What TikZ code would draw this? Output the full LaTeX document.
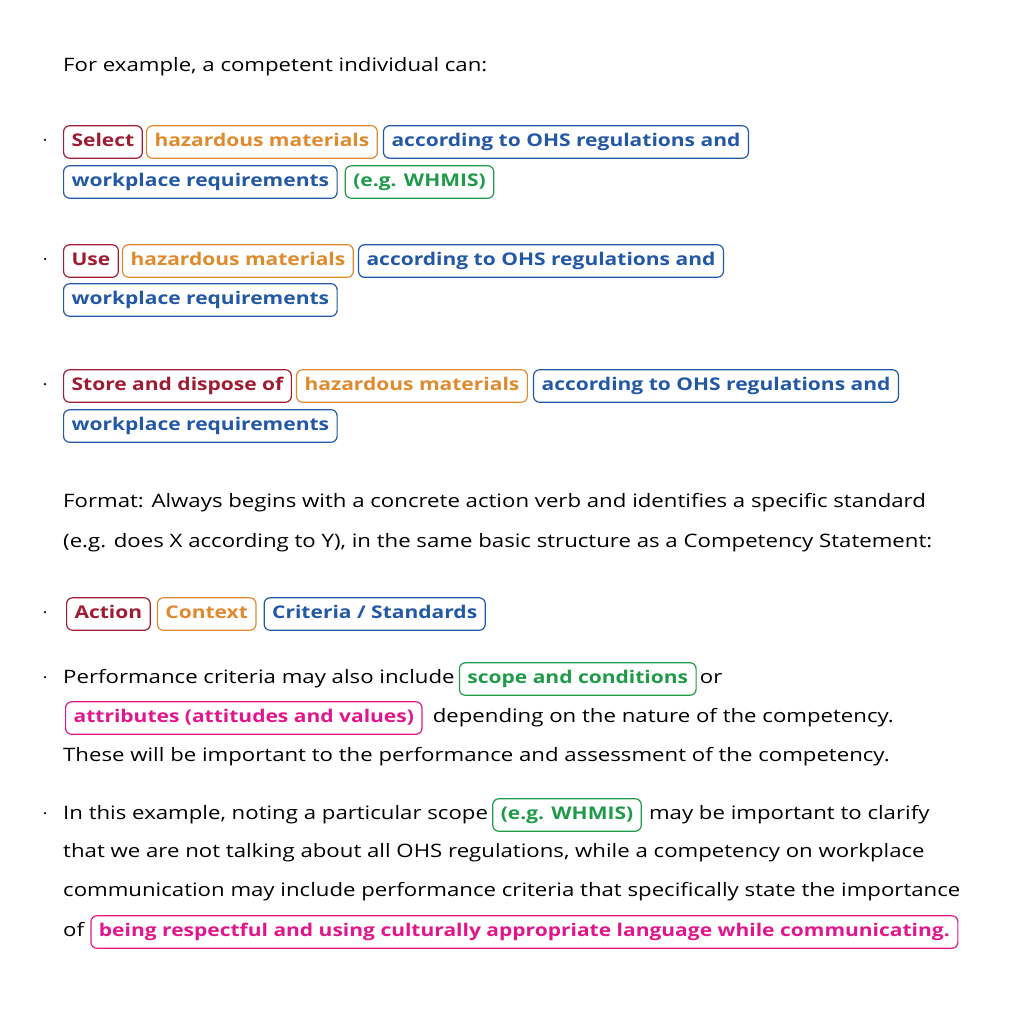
\documentclass[tikz,border=0pt]{standalone}
\usepackage{fontspec}
\setmainfont{Open Sans}[FakeStretch=1.2]
\usetikzlibrary{positioning}
\definecolor{actred}{HTML}{9E1B32}
\definecolor{ctxorange}{HTML}{E08A2E}
\definecolor{critblue}{HTML}{2258A5}
\definecolor{scopegreen}{HTML}{1E9A48}
\definecolor{attrpink}{HTML}{E2168C}
\begin{document}
\begin{tikzpicture}[x=1pt,y=-1pt,
every node/.style={font=\fontsize{18.5}{22}\selectfont,inner sep=0pt,
	text height=13.5pt,text depth=4pt},
tagbox/.style={draw,rounded corners=6pt,line width=1.2pt,inner xsep=8pt,
	inner ysep=7.5pt,font=\fontsize{17.5}{22}\selectfont\bfseries},
action/.style={tagbox,draw=actred,text=actred},
context/.style={tagbox,draw=ctxorange,text=ctxorange},
criteria/.style={tagbox,draw=critblue,text=critblue},
scope/.style={tagbox,draw=scopegreen,text=scopegreen},
attr/.style={tagbox,draw=attrpink,text=attrpink},
plain/.style={anchor=west},
bullet/.style={fill=black,circle,minimum size=2.5pt,text height=0pt,text depth=0pt}]

	\useasboundingbox (0,0) rectangle (1009,1024);
\begin{scope}[yshift=-3pt]
	\node[plain] (intro) at (63,64) {For example, a competent individual can:};

	% first item
	\node[bullet] (b1) at (45,137) {};
	\node[action,anchor=west] (s1) at (63,139) {Select};
	\node[context,right=3pt of s1] (h1) {hazardous materials};
	\node[criteria,right=5pt of h1] (c1) {according to OHS regulations and};
	\node[criteria,anchor=west] (w1) at (63,179) {workplace requirements};
	\node[scope,right=7pt of w1] (e1) {(e.g. WHMIS)};

	% second item
	\node[bullet] (b2) at (45,256) {};
	\node[action,anchor=west] (s2) at (63,258) {Use};
	\node[context,right=3pt of s2] (h2) {hazardous materials};
	\node[criteria,right=4pt of h2] (c2) {according to OHS regulations and};
	\node[criteria,anchor=west] (w2) at (63,297) {workplace requirements};

	% third item
	\node[bullet] (b3) at (45,381) {};
	\node[action,anchor=west] (s3) at (63,383) {Store and dispose of};
	\node[context,right=4pt of s3] (h3) {hazardous materials};
	\node[criteria,right=5pt of h3] (c3) {according to OHS regulations and};
	\node[criteria,anchor=west] (w3) at (63,423) {workplace requirements};

	\node[plain] (fmt1) at (63,500) {Format: Always begins with a concrete action verb and identifies a specific standard};
	\node[plain] (fmt2) at (63,540) {(e.g. does X according to Y), in the same basic structure as a Competency Statement:};

	\node[bullet] (b4) at (45,609) {};
	\node[action,anchor=west] (act) at (66,611) {Action};
	\node[context,right=6pt of act] (ctx) {Context};
	\node[criteria,right=7pt of ctx] (crit) {Criteria / Standards};

	\node[bullet] (b5) at (45,674) {};
	\node[plain] (perf1) at (63,676) {Performance criteria may also include};
	\node[scope,right=4pt of perf1] (scp) {scope and conditions};
	\node[right=3pt of scp] (or) {or};
	\node[attr,anchor=west] (att) at (65,715) {attributes (attitudes and values)};
	\node[right=10pt of att] (perf2) {depending on the nature of the competency.};
	\node[plain] (perf3) at (63,754) {These will be important to the performance and assessment of the competency.};

	\node[bullet] (b6) at (45,810) {};
	\node[plain] (ex1) at (63,812) {In this example, noting a particular scope};
	\node[scope,right=4pt of ex1] (e2) {(e.g. WHMIS)};
	\node[right=7pt of e2] (ex2) {may be important to clarify};
	\node[plain] (ex3) at (63,850) {that we are not talking about all OHS regulations, while a competency on workplace};
	\node[plain] (ex4) at (63,889) {communication may include performance criteria that specifically state the importance};
	\node[plain] (of) at (63,929) {of};
	\node[attr,right=6pt of of] (resp) {being respectful and using culturally appropriate language while communicating.};
\end{scope}
\end{tikzpicture}
\end{document}
